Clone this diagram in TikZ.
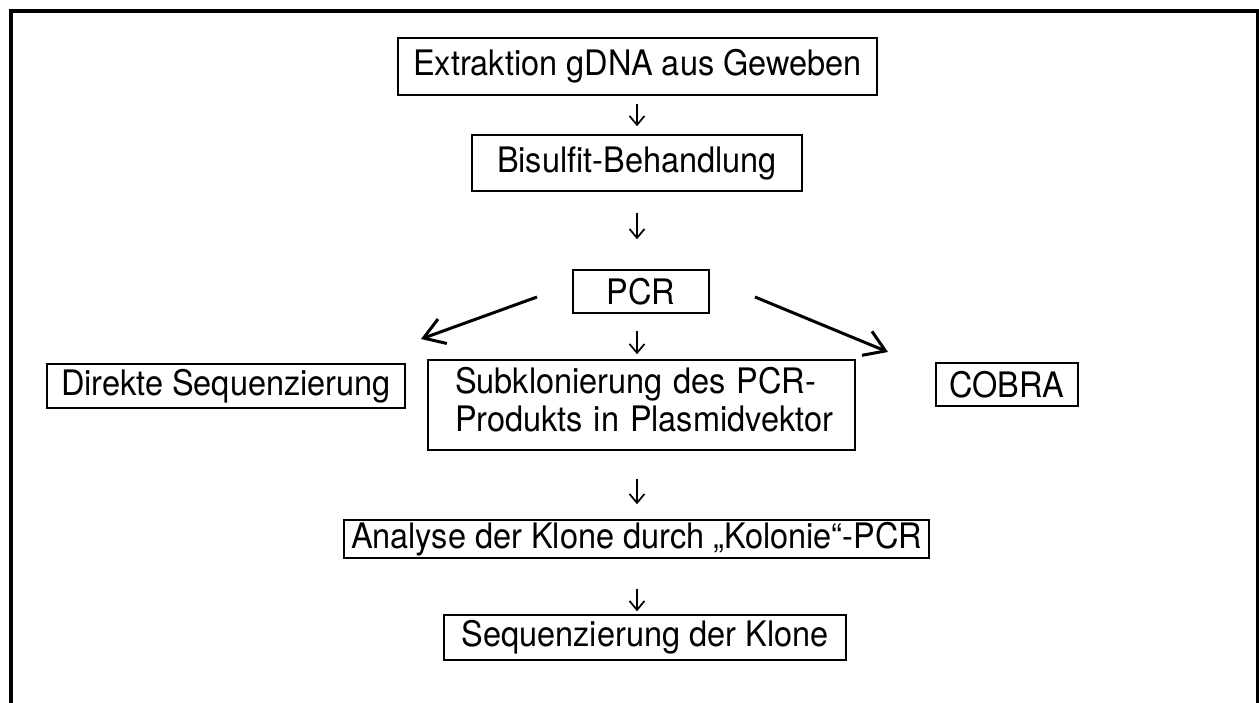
\documentclass[tikz,border=0pt]{standalone}
\usepackage{fontspec}
\usepackage{graphicx}
\setmainfont{TeX Gyre Heros}
\usetikzlibrary{arrows.meta}
% labels are set slightly taller than the plain font
\newcommand{\tall}[1]{\scalebox{1}[1.08]{#1}}
\begin{document}
\begin{tikzpicture}[x=1pt,y=-1pt,
  stepbox/.style={draw, line width=1.5pt, inner sep=0pt,
    font=\fontsize{32.5}{34.5}\selectfont},
  tick/.style={line width=1.7pt,
    -{Straight Barb[length=9pt,width=15pt,line width=1.7pt]}},
  branch/.style={line width=3pt,
    -{Straight Barb[length=20pt,width=26pt,line width=3pt]}}]
\useasboundingbox (0,0) rectangle (1259,702);
\clip (0,0) rectangle (1259,702);

% open frame (no bottom edge)
\draw[line width=4pt] (11,720) -- (11,11) -- (1258,11) -- (1258,720);

% steps
\node[stepbox, minimum width=479pt, minimum height=57pt] (extract) at (637.5,66.5) {\tall{Extraktion gDNA aus Geweben}};
\node[stepbox, minimum width=330pt, minimum height=56pt] (bisulfite) at (637,163) {\tall{Bisulfit-Behandlung}};
\node[stepbox, minimum width=136pt, minimum height=43pt] (pcr) at (641,291.5) {\tall{PCR}};
\node[stepbox, minimum width=358pt, minimum height=44pt] (direct) at (226,386) {\tall{Direkte Sequenzierung}};
\node[stepbox, text width=373pt, inner xsep=27pt, align=left, minimum height=90pt] (subclone) at (641.5,405)
  {\tall{\begin{tabular}{@{}l@{}}Subklonierung des PCR-\\Produkts in Plasmidvektor\end{tabular}}};
\node[stepbox, minimum width=142pt, minimum height=43pt] (cobra) at (1007,384.5) {\tall{COBRA}};
\node[stepbox, minimum width=585pt, minimum height=38pt] (colony) at (636.5,539) {\tall{Analyse der Klone durch „Kolonie“-PCR}};
\node[stepbox, minimum width=402pt, minimum height=45pt] (seqclones) at (645,637.5) {\tall{Sequenzierung der Klone}};

% vertical guide for the small down arrows
\coordinate (axis) at (637,0);
\draw[tick, shorten <=8pt, shorten >=8pt] (extract.south -| axis) -- (bisulfite.north -| axis);
\draw[tick, shorten <=21pt, shorten >=30pt] (bisulfite.south -| axis) -- (pcr.north -| axis);
\draw[tick, shorten <=17pt, shorten >=5pt] (pcr.south -| axis) -- (subclone.north -| axis);
\draw[tick, shorten <=28pt, shorten >=15pt] (subclone.south -| axis) -- (colony.north -| axis);
\draw[tick, shorten <=30pt, shorten >=3pt] (colony.south -| axis) -- (seqclones.north -| axis);

% branches from PCR
\coordinate (lstart) at (537,297);
\coordinate (lend) at (421,339);
\coordinate (rstart) at (755,297);
\coordinate (rend) at (888,352);
\draw[branch] (lstart) -- (lend);
\draw[branch] (rstart) -- (rend);
\end{tikzpicture}
\end{document}
